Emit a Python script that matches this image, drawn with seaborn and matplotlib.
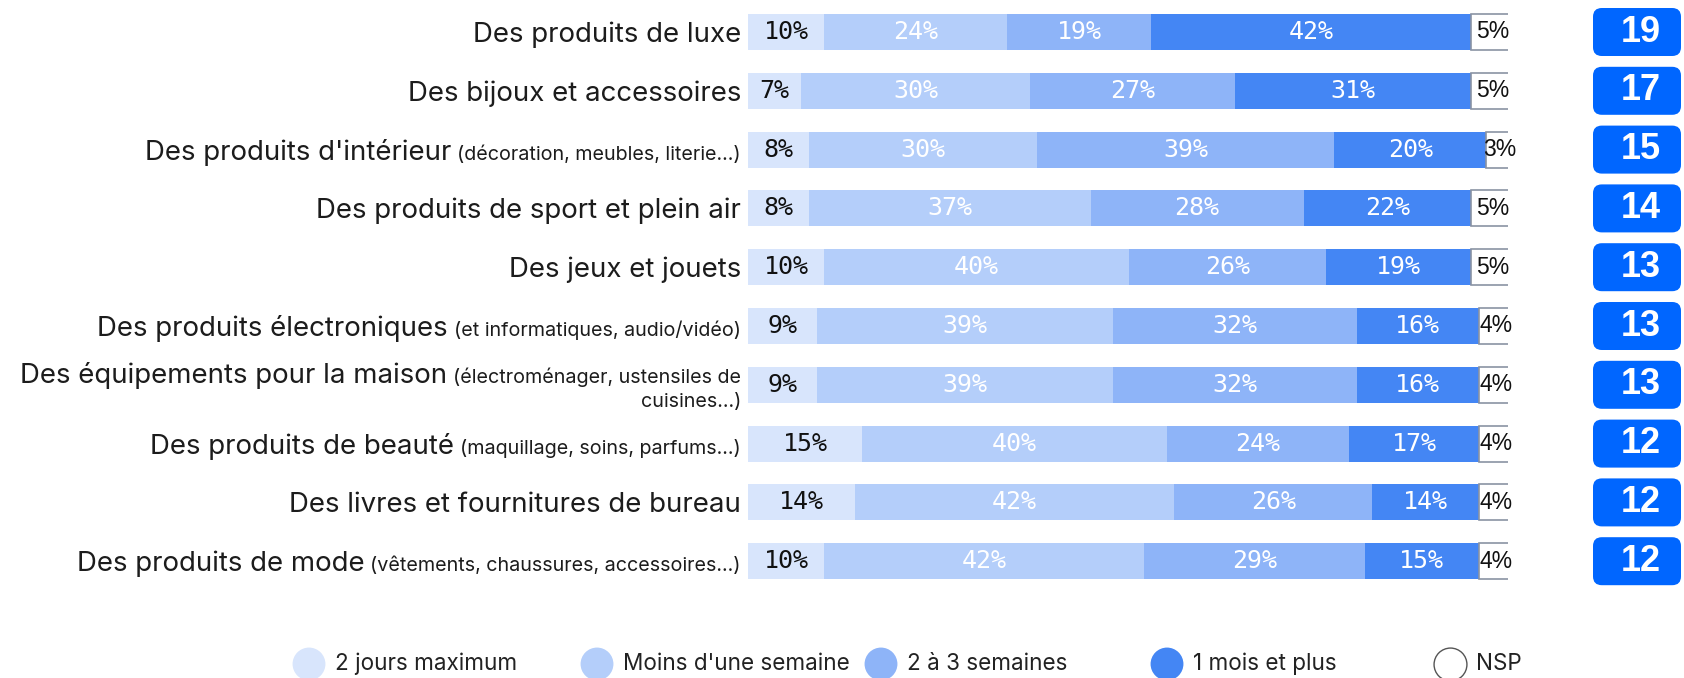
import matplotlib
matplotlib.use("Agg")
import matplotlib.pyplot as plt
import seaborn as sns
from matplotlib.patches import FancyBboxPatch
from matplotlib import transforms

# ---------------- data ----------------
categories = [
    "Des produits de luxe",
    "Des bijoux et accessoires",
    "Des produits d'intérieur",
    "Des produits de sport et plein air",
    "Des jeux et jouets",
    "Des produits électroniques",
    "Des équipements pour la maison",
    "Des produits de beauté",
    "Des livres et fournitures de bureau",
    "Des produits de mode",
]
category_notes = [
    "",
    "",
    "(décoration, meubles, literie...)",
    "",
    "",
    "(et informatiques, audio/vidéo)",
    "(électroménager, ustensiles de\ncuisines...)",
    "(maquillage, soins, parfums...)",
    "",
    "(vêtements, chaussures, accessoires...)",
]
deux_jours = [10, 7, 8, 8, 10, 9, 9, 15, 14, 10]
moins_semaine = [24, 30, 30, 37, 40, 39, 39, 40, 42, 42]
deux_trois_semaines = [19, 27, 39, 28, 26, 32, 32, 24, 26, 29]
un_mois_plus = [42, 31, 20, 22, 19, 16, 16, 17, 14, 15]
nsp = [5, 5, 3, 5, 5, 4, 4, 4, 4, 4]
scores = [19, 17, 15, 14, 13, 13, 13, 12, 12, 12]
series_names = ["2 jours maximum", "Moins d'une semaine", "2 à 3 semaines",
                "1 mois et plus", "NSP"]

# ---------------- style ----------------
sns.set_theme(style="white")
plt.rcParams["font.family"] = ["Inter", "DejaVu Sans"]

colors = ["#D8E5FC", "#B4CEFA", "#8EB4F8", "#4486F4", "#FFFFFF"]
text_colors = ["#111111", "white", "white", "white", "#111111"]
badge_color = "#0066FF"
label_color = "#1C1C1C"

W, H = 1684, 678
fig = plt.figure(figsize=(W / 100, H / 100), dpi=100)

row_px = 58.8
top_px = 32 - row_px / 2
bot_px = top_px + 10 * row_px
ax_rect = [748 / W, (H - bot_px) / H, (1508 - 748) / W, (bot_px - top_px) / H]
ax = fig.add_axes(ax_rect)

series = [deux_jours, moins_semaine, deux_trois_semaines, un_mois_plus, nsp]
lefts = [0] * len(categories)
bar_w = 36 / row_px
for k, vals in enumerate(series):
    edge = "#8A93A3" if k == 4 else "none"
    lw = 1.2 if k == 4 else 0
    sns.barplot(x=vals, y=categories, order=categories, orient="h",
                color=colors[k], saturation=1, width=bar_w, left=lefts,
                edgecolor=edge, linewidth=lw, errorbar=None, ax=ax)
    for i, v in enumerate(vals):
        cx = lefts[i] + v / 2
        if k == 4:
            ax.text(cx + 0.3, i, f"{v}%", ha="center", va="center", fontsize=16.5,
                    color=text_colors[k], family=["Liberation Sans"], clip_on=False)
        else:
            ax.text(cx, i, f"{v}%", ha="center", va="center", fontsize=18,
                    color=text_colors[k], family=["DejaVu Sans Mono"])
    lefts = [a + b for a, b in zip(lefts, vals)]

ax.set_xlim(0, 99.85)
ax.set_ylim(len(categories) - 0.5, -0.5)
ax.axis("off")

# ---------------- category labels ----------------
renderer = fig.canvas.get_renderer()
lab_tr = transforms.blended_transform_factory(fig.transFigure, ax.transData)
x_right = 741
main_fs = 19.9
note_fs = 14.2
for i, (cat, note) in enumerate(zip(categories, category_notes)):
    if "\n" in note:
        l1, l2 = note.split("\n")
        off1 = transforms.ScaledTranslation(0, 2 / 100, fig.dpi_scale_trans)
        off2 = transforms.ScaledTranslation(0, -22 / 100, fig.dpi_scale_trans)
        t1 = fig.text(x_right / W, i, l1, transform=lab_tr + off1, ha="right",
                      va="baseline", fontsize=note_fs, color=label_color)
        fig.text(x_right / W, i, l2, transform=lab_tr + off2, ha="right",
                 va="baseline", fontsize=note_fs, color=label_color)
        w = t1.get_window_extent(renderer).width
        fig.text((x_right - w - 6) / W, i, cat, transform=lab_tr + off1,
                 ha="right", va="baseline", fontsize=main_fs, color=label_color)
    else:
        off = transforms.ScaledTranslation(0, -10 / 100, fig.dpi_scale_trans)
        w = 0
        if note:
            t = fig.text(x_right / W, i, note, transform=lab_tr + off, ha="right",
                         va="baseline", fontsize=note_fs, color=label_color)
            w = t.get_window_extent(renderer).width + 6
        fig.text((x_right - w) / W, i, cat, transform=lab_tr + off,
                 ha="right", va="baseline", fontsize=main_fs, color=label_color)

# ---------------- badges ----------------
bx = fig.add_axes([1593 / W, ax_rect[1], 88 / W, ax_rect[3]])
bx.set_xlim(0, 1)
bx.set_ylim(len(categories) - 0.5, -0.5)
bx.axis("off")
bh = 48 / row_px
for i, s in enumerate(scores):
    p = FancyBboxPatch((0, i - bh / 2), 1, bh,
                       boxstyle="round,pad=0,rounding_size=0.1",
                       mutation_aspect=88 / row_px,
                       fc=badge_color, ec="none")
    bx.add_patch(p)
    bx.text(0.54, i, str(s), ha="center", va="center", color="white",
            fontsize=26, fontweight="bold", family=["Liberation Sans"])

# ---------------- legend ----------------
lx = fig.add_axes([0, 0, 1, 50 / H])
lx.set_xlim(0, W)
lx.set_ylim(0, 50)
lx.axis("off")
leg_x = [309, 597, 881, 1167, 1450]
ly = H - 664
for k, name in enumerate(series_names):
    lx.scatter([leg_x[k]], [ly], s=560, color=colors[k],
               edgecolors="#555555" if k == 4 else "none",
               linewidths=1 if k == 4 else 0, clip_on=False)
    lx.text(leg_x[k] + 26, ly, name, ha="left", va="center", fontsize=16.2,
            color="#222222")

fig.savefig("out.png", dpi=100)
